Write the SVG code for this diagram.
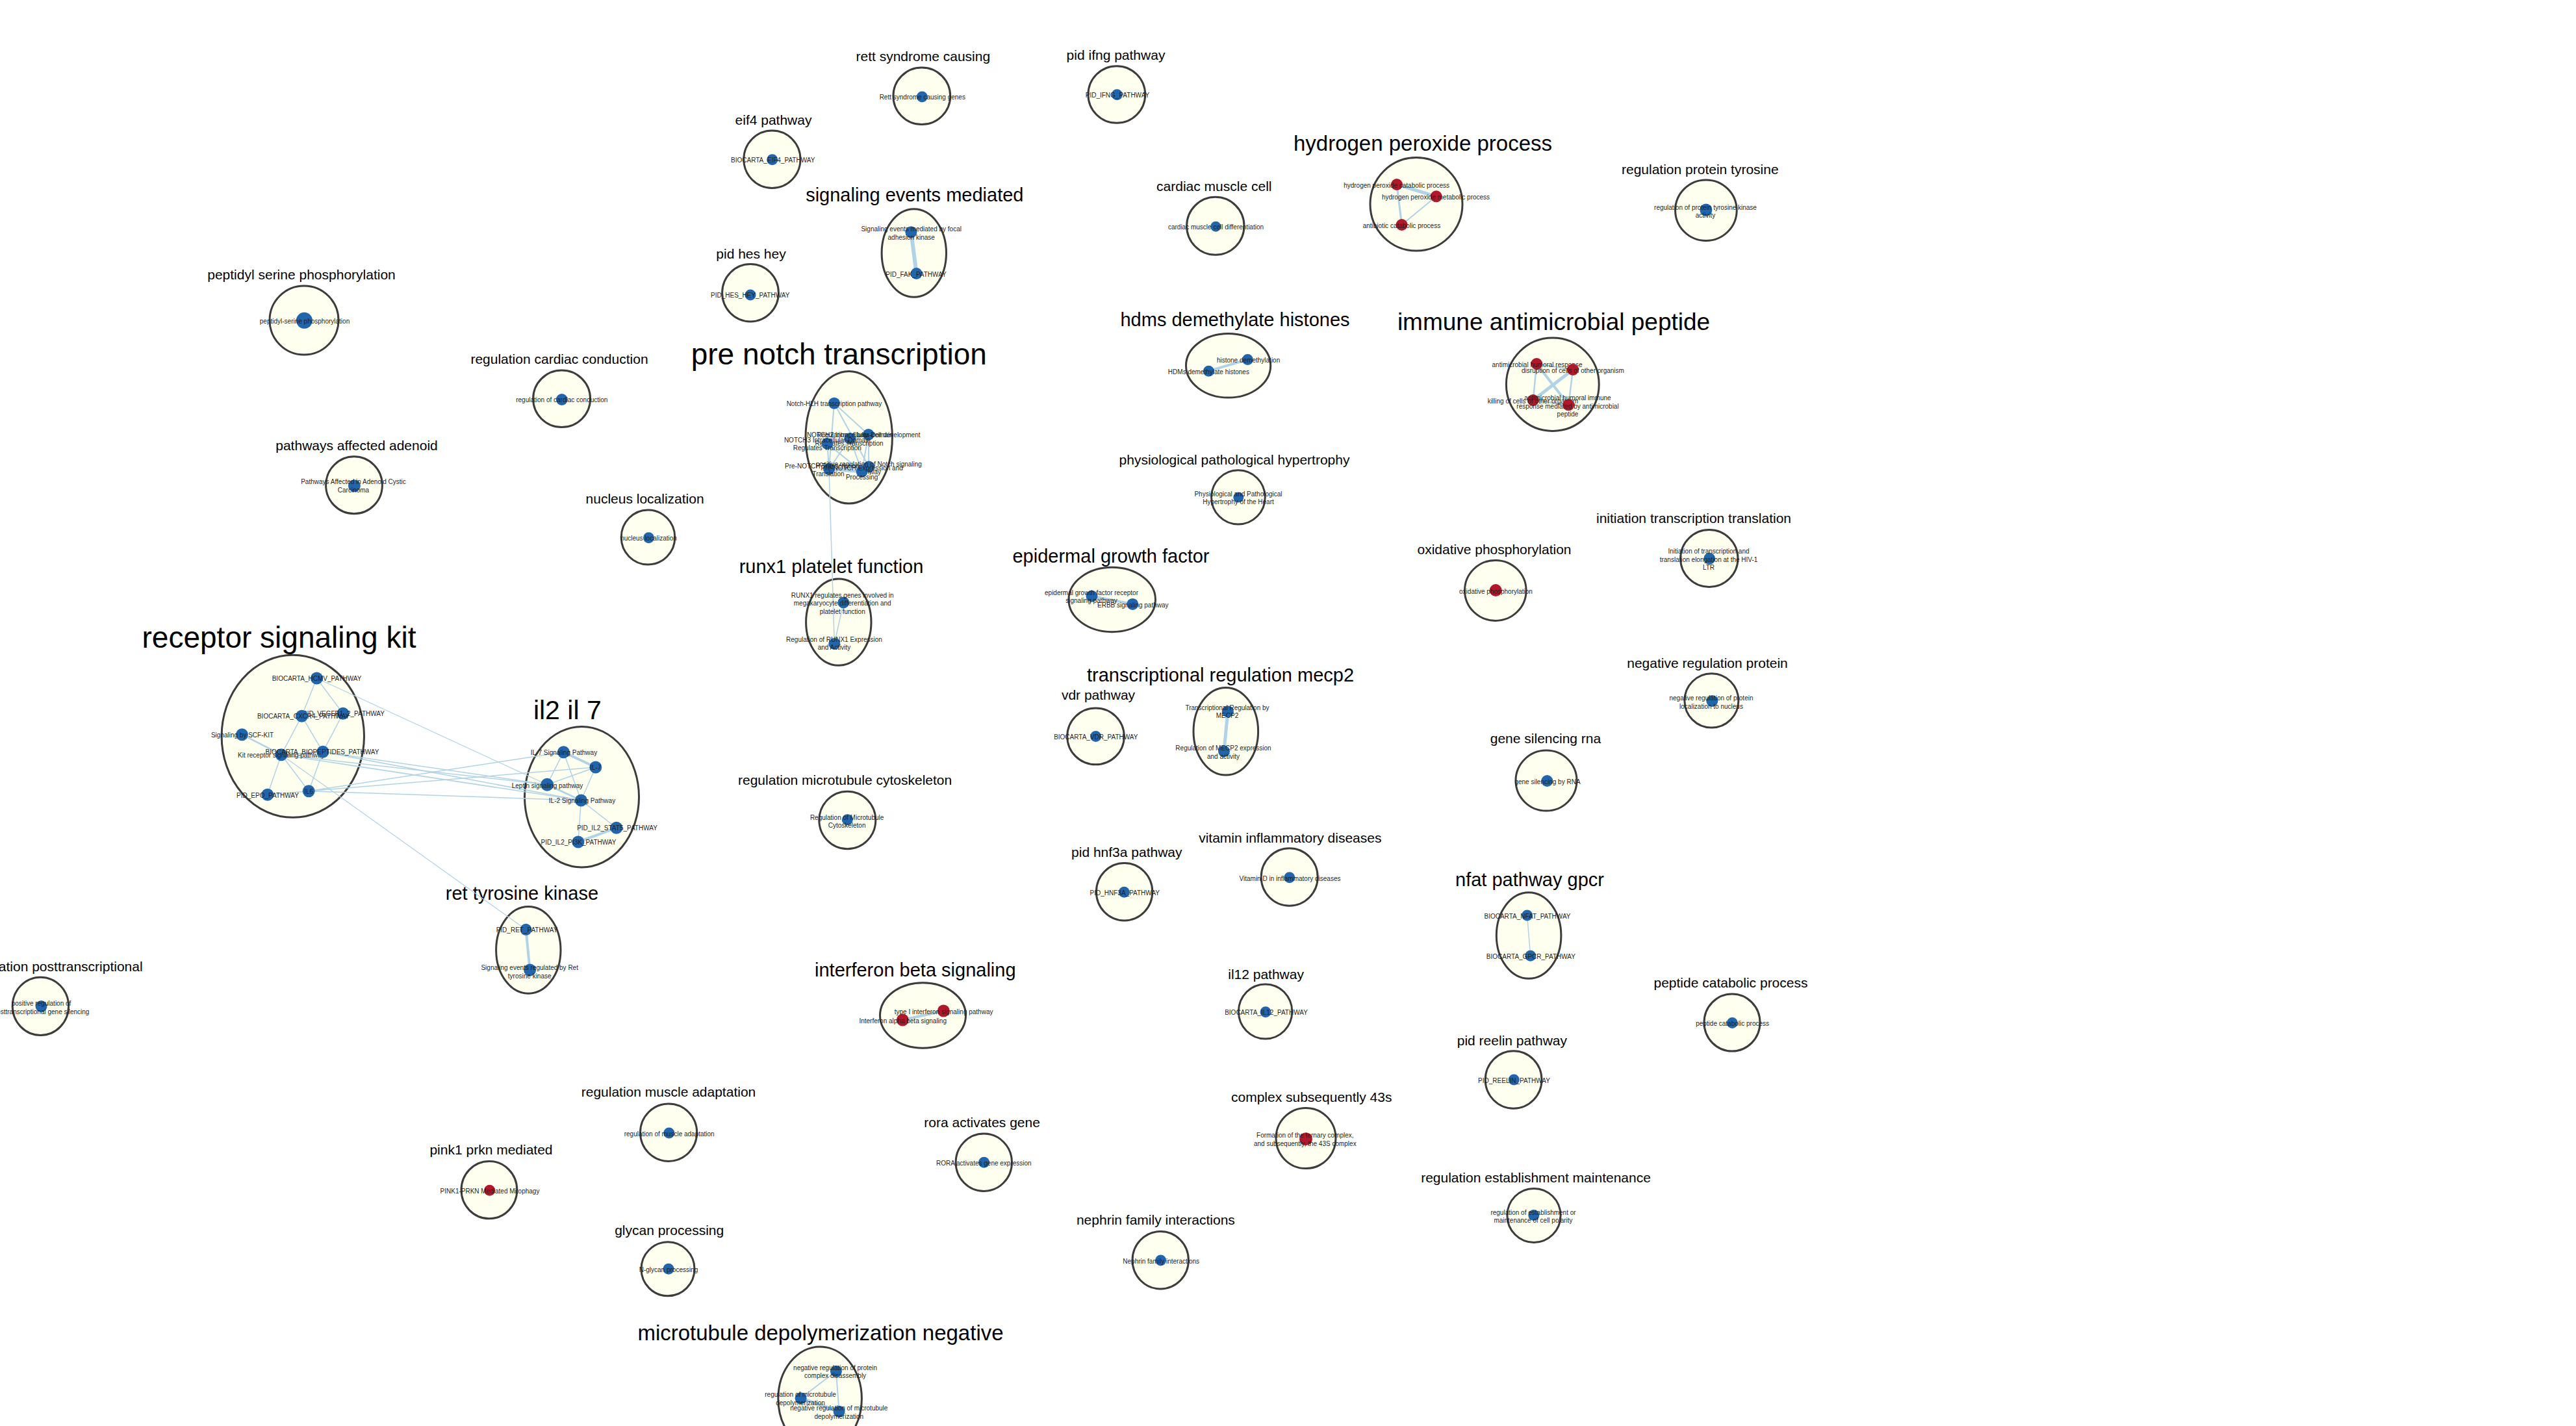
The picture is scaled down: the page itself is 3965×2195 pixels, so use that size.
<svg xmlns="http://www.w3.org/2000/svg" width="3965" height="2195" viewBox="0 0 3965 2195">
<style>
.cl{fill:#fffff0;stroke:#3c3c3c;stroke-width:3}
text{font-family:"Liberation Sans",Arial,sans-serif}
.h{text-anchor:middle;fill:#000}
.s21{font-size:21px}.s29{font-size:29px}.s33{font-size:33px}.s37{font-size:37px}.s41{font-size:41px}.s46{font-size:46px}
.b{fill:#2166ac}.r{fill:#b2182b}
.nl{font-size:10px;fill:#1e1e1e;text-anchor:middle;dominant-baseline:central}
#edges line{stroke:#b0d3e7;stroke-linecap:round}
</style>
<rect width="3965" height="2195" fill="#fff"/>
<g id="clusters">
<g id="c-peptidyl"><ellipse class="cl" cx="468" cy="493" rx="53" ry="53"/><text class="h s21" x="464" y="430">peptidyl serine phosphorylation</text></g>
<g id="c-cardcond"><ellipse class="cl" cx="864.6" cy="613.8" rx="44" ry="43.8"/><text class="h s21" x="861" y="560">regulation cardiac conduction</text></g>
<g id="c-adenoid"><ellipse class="cl" cx="545" cy="746.8" rx="43.4" ry="44"/><text class="h s21" x="549" y="693">pathways affected adenoid</text></g>
<g id="c-nucleus"><ellipse class="cl" cx="997.5" cy="827" rx="41.3" ry="42"/><text class="h s21" x="992.6" y="775">nucleus localization</text></g>
<g id="c-kit"><ellipse class="cl" cx="450.8" cy="1133.3" rx="109.7" ry="125"/><text class="h s46" x="429.5" y="996.7">receptor signaling kit</text></g>
<g id="c-il2"><ellipse class="cl" cx="895.5" cy="1226.7" rx="88" ry="108.3"/><text class="h s41" x="873.3" y="1106.7">il2 il 7</text></g>
<g id="c-notch"><ellipse class="cl" cx="1306.7" cy="673.2" rx="66.7" ry="101.8"/><text class="h s46" x="1291.3" y="560.7">pre notch transcription</text></g>
<g id="c-runx1"><ellipse class="cl" cx="1290.8" cy="957.7" rx="50.2" ry="66.6"/><text class="h s29" x="1279.5" y="882">runx1 platelet function</text></g>
<g id="c-hydrogen"><ellipse class="cl" cx="2180" cy="314.2" rx="71" ry="71.8"/><text class="h s33" x="2190" y="231.7">hydrogen peroxide process</text></g>
<g id="c-immune"><ellipse class="cl" cx="2389.8" cy="591.7" rx="71.4" ry="71.7"/><text class="h s37" x="2391.5" y="508.3">immune antimicrobial peptide</text></g>
<g id="c-tyrosine"><ellipse class="cl" cx="2625.9" cy="323.7" rx="47.3" ry="46.8"/><text class="h s21" x="2616.8" y="267.7">regulation protein tyrosine</text></g>
<g id="c-initiation"><ellipse class="cl" cx="2630.8" cy="859.5" rx="44.2" ry="43.9"/><text class="h s21" x="2607" y="805">initiation transcription translation</text></g>
<g id="c-oxidative"><ellipse class="cl" cx="2301.8" cy="908.9" rx="47.3" ry="46.5"/><text class="h s21" x="2300" y="852.6">oxidative phosphorylation</text></g>
<g id="c-negprot"><ellipse class="cl" cx="2634.4" cy="1078.4" rx="41.5" ry="41.6"/><text class="h s21" x="2628" y="1027.7">negative regulation protein</text></g>
<g id="c-genesil"><ellipse class="cl" cx="2380" cy="1201.6" rx="47" ry="46.5"/><text class="h s21" x="2379" y="1144">gene silencing rna</text></g>
<g id="c-rett"><ellipse class="cl" cx="1418.8" cy="147.8" rx="43.9" ry="43.8"/><text class="h s21" x="1420.8" y="94">rett syndrome causing</text></g>
<g id="c-ifng"><ellipse class="cl" cx="1718.8" cy="145.5" rx="43.9" ry="43.8"/><text class="h s21" x="1717.5" y="91.7">pid ifng pathway</text></g>
<g id="c-eif4"><ellipse class="cl" cx="1188.4" cy="245.2" rx="43.6" ry="44.2"/><text class="h s21" x="1190.5" y="191.7">eif4 pathway</text></g>
<g id="c-sigev"><ellipse class="cl" cx="1406.8" cy="389.5" rx="49.7" ry="67.8"/><text class="h s29" x="1407.8" y="310">signaling events mediated</text></g>
<g id="c-heshey"><ellipse class="cl" cx="1155" cy="450.8" rx="43.4" ry="44.2"/><text class="h s21" x="1156" y="397.7">pid hes hey</text></g>
<g id="c-cardmus"><ellipse class="cl" cx="1870.8" cy="347.8" rx="44.2" ry="44.5"/><text class="h s21" x="1868.8" y="294.3">cardiac muscle cell</text></g>
<g id="c-hdms"><ellipse class="cl" cx="1890.6" cy="562.8" rx="65.1" ry="49.2"/><text class="h s29" x="1901" y="501.8">hdms demethylate histones</text></g>
<g id="c-physio"><ellipse class="cl" cx="1905.9" cy="765.4" rx="41.3" ry="41.6"/><text class="h s21" x="1900" y="715">physiological pathological hypertrophy</text></g>
<g id="c-egf"><ellipse class="cl" cx="1711.7" cy="923" rx="66.8" ry="49.7"/><text class="h s29" x="1710" y="865.6">epidermal growth factor</text></g>
<g id="c-mecp2"><ellipse class="cl" cx="1886.8" cy="1125.7" rx="49.8" ry="67.3"/><text class="h s29" x="1878.5" y="1049">transcriptional regulation mecp2</text></g>
<g id="c-vdr"><ellipse class="cl" cx="1686.5" cy="1133.4" rx="43.8" ry="43.4"/><text class="h s21" x="1690.5" y="1077.3">vdr pathway</text></g>
<g id="c-mtcyto"><ellipse class="cl" cx="1304.3" cy="1262.5" rx="43.5" ry="44.2"/><text class="h s21" x="1300.6" y="1208.3">regulation microtubule cytoskeleton</text></g>
<g id="c-hnf3a"><ellipse class="cl" cx="1730.6" cy="1372.8" rx="43.2" ry="44.2"/><text class="h s21" x="1734.3" y="1319.3">pid hnf3a pathway</text></g>
<g id="c-vitamin"><ellipse class="cl" cx="1984.7" cy="1350" rx="43.5" ry="44.2"/><text class="h s21" x="1985.8" y="1296.7">vitamin inflammatory diseases</text></g>
<g id="c-ifnb"><ellipse class="cl" cx="1420.5" cy="1563" rx="66" ry="50.3"/><text class="h s29" x="1408.8" y="1503.3">interferon beta signaling</text></g>
<g id="c-il12"><ellipse class="cl" cx="1947.6" cy="1557" rx="41.2" ry="42"/><text class="h s21" x="1948.6" y="1506.7">il12 pathway</text></g>
<g id="c-nfat"><ellipse class="cl" cx="2353.1" cy="1440" rx="49.8" ry="66.3"/><text class="h s29" x="2354.5" y="1364.3">nfat pathway gpcr</text></g>
<g id="c-peptcat"><ellipse class="cl" cx="2666" cy="1574" rx="43" ry="44"/><text class="h s21" x="2664" y="1519.7">peptide catabolic process</text></g>
<g id="c-reelin"><ellipse class="cl" cx="2329.6" cy="1662" rx="43.4" ry="44.2"/><text class="h s21" x="2327.4" y="1608.9">pid reelin pathway</text></g>
<g id="c-43s"><ellipse class="cl" cx="2010" cy="1752" rx="46" ry="46.6"/><text class="h s21" x="2018.7" y="1696">complex subsequently 43s</text></g>
<g id="c-polarity"><ellipse class="cl" cx="2361" cy="1870.9" rx="41.1" ry="41.5"/><text class="h s21" x="2364" y="1820.3">regulation establishment maintenance</text></g>
<g id="c-ret"><ellipse class="cl" cx="813.3" cy="1462.4" rx="49.7" ry="66.8"/><text class="h s29" x="803.4" y="1385.2">ret tyrosine kinase</text></g>
<g id="c-posttr"><ellipse class="cl" cx="62.4" cy="1548.8" rx="43.2" ry="44.6"/><text class="s21" x="219.6" y="1495" text-anchor="end">ation posttranscriptional</text></g>
<g id="c-muscle"><ellipse class="cl" cx="1029.1" cy="1743.2" rx="43.6" ry="44.2"/><text class="h s21" x="1029" y="1688">regulation muscle adaptation</text></g>
<g id="c-pink1"><ellipse class="cl" cx="752.9" cy="1831.6" rx="42.9" ry="44.2"/><text class="h s21" x="756" y="1777">pink1 prkn mediated</text></g>
<g id="c-glycan"><ellipse class="cl" cx="1028" cy="1953.3" rx="41" ry="41.5"/><text class="h s21" x="1030.2" y="1901.4">glycan processing</text></g>
<g id="c-rora"><ellipse class="cl" cx="1514.3" cy="1789.2" rx="43.2" ry="44.2"/><text class="h s21" x="1511.6" y="1735">rora activates gene</text></g>
<g id="c-nephrin"><ellipse class="cl" cx="1786.2" cy="1939.8" rx="43.2" ry="44.2"/><text class="h s21" x="1778.9" y="1885">nephrin family interactions</text></g>
<g id="c-mtdep"><ellipse class="cl" cx="1262.1" cy="2153" rx="64.3" ry="80"/><text class="h s33" x="1263" y="2062.7">microtubule depolymerization negative</text></g>
</g>
<g id="edges">
<!-- receptor signaling kit internal -->
<line x1="487.5" y1="1044" x2="464.5" y2="1102.3" stroke-width="1.5"/>
<line x1="487.5" y1="1044" x2="527.9" y2="1098.3" stroke-width="1.5"/>
<line x1="464.5" y1="1102.3" x2="433" y2="1161.7" stroke-width="1.5"/>
<line x1="464.5" y1="1102.3" x2="497" y2="1157.3" stroke-width="1.5"/>
<line x1="527.9" y1="1098.3" x2="497" y2="1157.3" stroke-width="1.5"/>
<line x1="372.5" y1="1130.7" x2="433" y2="1161.7" stroke-width="2.5"/>
<line x1="433" y1="1161.7" x2="411.8" y2="1223.3" stroke-width="1.5"/>
<line x1="433" y1="1161.7" x2="475.2" y2="1217.7" stroke-width="1.5"/>
<line x1="497" y1="1157.3" x2="475.2" y2="1217.7" stroke-width="1.5"/>
<line x1="411.8" y1="1223.3" x2="475.2" y2="1217.7" stroke-width="1.5"/>
<line x1="433" y1="1161.7" x2="497" y2="1157.3" stroke-width="2"/>
<!-- cross edges kit / il2 -->
<line x1="487.5" y1="1044" x2="842.2" y2="1207.7" stroke-width="1.2"/>
<line x1="433" y1="1161.7" x2="842.2" y2="1207.7" stroke-width="1.5"/>
<line x1="433" y1="1161.7" x2="894.4" y2="1232" stroke-width="1.5"/>
<line x1="497" y1="1157.3" x2="842.2" y2="1207.7" stroke-width="1.5"/>
<line x1="497" y1="1157.3" x2="894.4" y2="1232" stroke-width="1.5"/>
<line x1="475.2" y1="1217.7" x2="867.4" y2="1157.7" stroke-width="1.5"/>
<line x1="475.2" y1="1217.7" x2="916.8" y2="1181" stroke-width="1.5"/>
<line x1="475.2" y1="1217.7" x2="894.4" y2="1232" stroke-width="1.5"/>
<line x1="433" y1="1161.7" x2="809.5" y2="1430.8" stroke-width="1.2"/>
<!-- il2 internal -->
<line x1="867.4" y1="1157.7" x2="916.8" y2="1181" stroke-width="4"/>
<line x1="867.4" y1="1157.7" x2="842.2" y2="1207.7" stroke-width="1.5"/>
<line x1="867.4" y1="1157.7" x2="894.4" y2="1232" stroke-width="1.5"/>
<line x1="916.8" y1="1181" x2="842.2" y2="1207.7" stroke-width="1.5"/>
<line x1="916.8" y1="1181" x2="894.4" y2="1232" stroke-width="1.5"/>
<line x1="842.2" y1="1207.7" x2="894.4" y2="1232" stroke-width="3"/>
<line x1="894.4" y1="1232" x2="948.8" y2="1274.3" stroke-width="1.5"/>
<line x1="894.4" y1="1232" x2="889.9" y2="1296" stroke-width="1.5"/>
<line x1="948.8" y1="1274.3" x2="889.9" y2="1296" stroke-width="4"/>
<!-- ret -->
<line x1="809.5" y1="1430.8" x2="815.6" y2="1493" stroke-width="4"/>
<!-- notch -->
<line x1="1284" y1="620.7" x2="1336.7" y2="669" stroke-width="2"/>
<line x1="1284" y1="620.7" x2="1276" y2="722" stroke-width="2"/>
<line x1="1284" y1="620.7" x2="1337.3" y2="718.6" stroke-width="2"/>
<line x1="1336.7" y1="669" x2="1308.3" y2="675" stroke-width="4"/>
<line x1="1336.7" y1="669" x2="1337.3" y2="718.6" stroke-width="2"/>
<line x1="1336.7" y1="669" x2="1326.7" y2="725.7" stroke-width="2"/>
<line x1="1308.3" y1="675" x2="1273.3" y2="682.9" stroke-width="2"/>
<line x1="1308.3" y1="675" x2="1276" y2="722" stroke-width="2"/>
<line x1="1308.3" y1="675" x2="1326.7" y2="725.7" stroke-width="2"/>
<line x1="1273.3" y1="682.9" x2="1276" y2="722" stroke-width="2"/>
<line x1="1273.3" y1="682.9" x2="1326.7" y2="725.7" stroke-width="2"/>
<line x1="1276" y1="722" x2="1326.7" y2="725.7" stroke-width="5"/>
<line x1="1276" y1="722" x2="1337.3" y2="718.6" stroke-width="2"/>
<line x1="1337.3" y1="718.6" x2="1326.7" y2="725.7" stroke-width="4"/>
<line x1="1276" y1="722" x2="1284.3" y2="991" stroke-width="1.5"/>
<!-- runx1 -->
<line x1="1298.3" y1="927.5" x2="1284.3" y2="991" stroke-width="1.5"/>
<!-- signaling events -->
<line x1="1402.4" y1="357.3" x2="1410.6" y2="421" stroke-width="6"/>
<!-- hydrogen -->
<line x1="2150" y1="284" x2="2210.7" y2="302.3" stroke-width="5"/>
<line x1="2150" y1="284" x2="2157.6" y2="346" stroke-width="3"/>
<line x1="2210.7" y1="302.3" x2="2157.6" y2="346" stroke-width="2"/>
<!-- immune -->
<line x1="2365.2" y1="560" x2="2421" y2="569" stroke-width="2"/>
<line x1="2365.2" y1="560" x2="2359.8" y2="616" stroke-width="2.5"/>
<line x1="2365.2" y1="560" x2="2414.3" y2="623.3" stroke-width="4"/>
<line x1="2421" y1="569" x2="2359.8" y2="616" stroke-width="5"/>
<line x1="2421" y1="569" x2="2414.3" y2="623.3" stroke-width="2.5"/>
<line x1="2359.8" y1="616" x2="2414.3" y2="623.3" stroke-width="3"/>
<!-- hdms, egf, mecp2, ifnb, nfat -->
<line x1="1920.4" y1="553.4" x2="1860.4" y2="571.2" stroke-width="4"/>
<line x1="1680.5" y1="917.7" x2="1743.3" y2="929.9" stroke-width="4"/>
<line x1="1889.8" y1="1095.2" x2="1884" y2="1156.4" stroke-width="5"/>
<line x1="1452.3" y1="1556" x2="1389.3" y2="1570" stroke-width="4"/>
<line x1="2350.6" y1="1409" x2="2355.7" y2="1471.2" stroke-width="1.5"/>
<!-- microtubule depolymerization -->
<line x1="1286.9" y1="2110.7" x2="1232.6" y2="2152.3" stroke-width="2"/>
<line x1="1286.9" y1="2110.7" x2="1291.6" y2="2172.7" stroke-width="2"/>
<line x1="1232.6" y1="2152.3" x2="1291.6" y2="2172.7" stroke-width="5"/>
</g>
<g id="nodes">
<g id="n-peptidyl"><circle class="b" cx="468.4" cy="493.3" r="12.5"/><text class="nl" x="469" y="494">peptidyl-serine phosphorylation</text></g>
<g id="n-cardcond"><circle class="b" cx="864.8" cy="615" r="9"/><text class="nl" x="864.8" y="615.5">regulation of cardiac conduction</text></g>
<g id="n-adenoid"><circle class="b" cx="545.4" cy="747.7" r="9.5"/><text class="nl" x="544" y="741.5">Pathways Affected in Adenoid Cystic</text><text class="nl" x="544" y="754.7">Carcinoma</text></g>
<g id="n-nucleus"><circle class="b" cx="998.5" cy="827.7" r="8.5"/><text class="nl" x="998.5" y="828">nucleus localization</text></g>
<g id="n-hcmv"><circle class="b" cx="487.5" cy="1044" r="9.5"/><text class="nl" x="487.5" y="1044">BIOCARTA_HCMV_PATHWAY</text></g>
<g id="n-vegfr"><circle class="b" cx="527.9" cy="1098.3" r="9.5"/><text class="nl" x="529" y="1098.3">PID_VEGFR1_2_PATHWAY</text></g>
<g id="n-cxcr4"><circle class="b" cx="464.5" cy="1102.3" r="9.5"/><text class="nl" x="467" y="1102.5">BIOCARTA_CXCR4_PATHWAY</text></g>
<g id="n-scf"><circle class="b" cx="372.5" cy="1130.7" r="9.5"/><text class="nl" x="373" y="1131">Signaling by SCF-KIT</text></g>
<g id="n-kit"><circle class="b" cx="433" cy="1161.7" r="9.5"/><text class="nl" x="432.7" y="1162">Kit receptor signaling pathway</text></g>
<g id="n-biopep"><circle class="b" cx="497" cy="1157.3" r="9.5"/><text class="nl" x="496" y="1157.5">BIOCARTA_BIOPEPTIDES_PATHWAY</text></g>
<g id="n-il6"><circle class="b" cx="475.2" cy="1217.7" r="9.5"/><text class="nl" x="475.2" y="1218">IL6</text></g>
<g id="n-epo"><circle class="b" cx="411.8" cy="1223.3" r="9.5"/><text class="nl" x="412" y="1224">PID_EPO_PATHWAY</text></g>
<g id="n-il7sp"><circle class="b" cx="867.4" cy="1157.7" r="9.5"/><text class="nl" x="868" y="1158">IL-7 Signaling Pathway</text></g>
<g id="n-il7"><circle class="b" cx="916.8" cy="1181" r="9.5"/><text class="nl" x="916.8" y="1181">IL-7</text></g>
<g id="n-leptin"><circle class="b" cx="842.2" cy="1207.7" r="10"/><text class="nl" x="842.5" y="1209">Leptin signaling pathway</text></g>
<g id="n-il2sp"><circle class="b" cx="894.4" cy="1232" r="9.5"/><text class="nl" x="896" y="1232.5">IL-2 Signaling Pathway</text></g>
<g id="n-stat5"><circle class="b" cx="948.8" cy="1274.3" r="9.5"/><text class="nl" x="950" y="1274.5">PID_IL2_STAT5_PATHWAY</text></g>
<g id="n-pi3k"><circle class="b" cx="889.9" cy="1296" r="9.5"/><text class="nl" x="890.5" y="1296.5">PID_IL2_PI3K_PATHWAY</text></g>
<g id="n-retp"><circle class="b" cx="809.5" cy="1430.8" r="9"/><text class="nl" x="811" y="1431">PID_RET_PATHWAY</text></g>
<g id="n-retsig"><circle class="b" cx="815.6" cy="1493" r="9.5"/><text class="nl" x="815.2" y="1489">Signaling events regulated by Ret</text><text class="nl" x="815.2" y="1502">tyrosine kinase</text></g>
<g id="n-posttr"><circle class="b" cx="63.5" cy="1549" r="9"/><text class="nl" x="63.5" y="1544">positive regulation of</text><text class="nl" x="63.5" y="1557">posttranscriptional gene silencing</text></g>
<g id="n-hlh"><circle class="b" cx="1284" cy="620.7" r="9"/><text class="nl" x="1284" y="621.5">Notch-HLH transcription pathway</text></g>
<g id="n-beta"><circle class="b" cx="1336.7" cy="669" r="9"/><text class="nl" x="1336.7" y="669.6">Regulation of beta-cell development</text></g>
<g id="n-notch2"><circle class="b" cx="1308.3" cy="675" r="9"/><text class="nl" x="1308.3" y="669.6">NOTCH2 Intracellular Domain</text><text class="nl" x="1307" y="682.9">Regulates Transcription</text></g>
<g id="n-notch3"><circle class="b" cx="1273.3" cy="682.9" r="9"/><text class="nl" x="1273.3" y="677.5">NOTCH3 Intracellular Domain</text><text class="nl" x="1273.3" y="689.6">Regulates Transcription</text></g>
<g id="n-pretr"><circle class="b" cx="1276" cy="722" r="9"/><text class="nl" x="1275" y="717">Pre-NOTCH Transcription and</text><text class="nl" x="1275" y="729.6">Translation</text></g>
<g id="n-posnotch"><circle class="b" cx="1337.3" cy="718.6" r="9"/><text class="nl" x="1337.5" y="714.6">positive regulation of Notch signaling</text><text class="nl" x="1337.5" y="726.8">pathway</text></g>
<g id="n-preexp"><circle class="b" cx="1326.7" cy="725.7" r="9"/><text class="nl" x="1326.7" y="720.7">Pre-NOTCH Expression and</text><text class="nl" x="1326.7" y="734">Processing</text></g>
<g id="n-runxgenes"><circle class="b" cx="1298.3" cy="927.5" r="9"/><text class="nl" x="1296.7" y="916">RUNX1 regulates genes involved in</text><text class="nl" x="1296.7" y="928">megakaryocyte differentiation and</text><text class="nl" x="1296.7" y="941">platelet function</text></g>
<g id="n-runxreg"><circle class="b" cx="1284.3" cy="991" r="9"/><text class="nl" x="1284" y="984">Regulation of RUNX1 Expression</text><text class="nl" x="1284" y="996">and Activity</text></g>
<g id="n-h2o2cat"><circle class="r" cx="2150" cy="284" r="9"/><text class="nl" x="2149.6" y="285">hydrogen peroxide catabolic process</text></g>
<g id="n-h2o2met"><circle class="r" cx="2210.7" cy="302.3" r="9"/><text class="nl" x="2210" y="303.5">hydrogen peroxide metabolic process</text></g>
<g id="n-antibio"><circle class="r" cx="2157.6" cy="346" r="9"/><text class="nl" x="2157.4" y="347">antibiotic catabolic process</text></g>
<g id="n-ahr"><circle class="r" cx="2365.2" cy="560" r="9"/><text class="nl" x="2366" y="561.5">antimicrobial humoral response</text></g>
<g id="n-dco"><circle class="r" cx="2421" cy="569" r="9"/><text class="nl" x="2421" y="570">disruption of cells of other organism</text></g>
<g id="n-kco"><circle class="r" cx="2359.8" cy="616" r="9"/><text class="nl" x="2359.4" y="617">killing of cells of other organism</text></g>
<g id="n-ahir"><circle class="r" cx="2414.3" cy="623.3" r="9"/><text class="nl" x="2413" y="612">antimicrobial humoral immune</text><text class="nl" x="2413" y="625">response mediated by antimicrobial</text><text class="nl" x="2413" y="637">peptide</text></g>
<g id="n-tyrosine"><circle class="b" cx="2625.9" cy="323" r="9.5"/><text class="nl" x="2625" y="319">regulation of protein tyrosine kinase</text><text class="nl" x="2625" y="331">activity</text></g>
<g id="n-initiation"><circle class="b" cx="2631.2" cy="859.8" r="9"/><text class="nl" x="2630" y="848">Initiation of transcription and</text><text class="nl" x="2630" y="861">translation elongation at the HIV-1</text><text class="nl" x="2630" y="873">LTR</text></g>
<g id="n-oxidative"><circle class="r" cx="2302.2" cy="908.6" r="9.5"/><text class="nl" x="2302.5" y="910">oxidative phosphorylation</text></g>
<g id="n-negprot"><circle class="b" cx="2635.3" cy="1079" r="9"/><text class="nl" x="2634" y="1074">negative regulation of protein</text><text class="nl" x="2634" y="1087">localization to nucleus</text></g>
<g id="n-genesil"><circle class="b" cx="2381.3" cy="1202" r="9"/><text class="nl" x="2382" y="1203">gene silencing by RNA</text></g>
<g id="n-rett"><circle class="b" cx="1419.3" cy="149" r="8.5"/><text class="nl" x="1419.8" y="149.5">Rett syndrome causing genes</text></g>
<g id="n-ifng"><circle class="b" cx="1719.3" cy="145.7" r="8.5"/><text class="nl" x="1720" y="146.5">PID_IFNG_PATHWAY</text></g>
<g id="n-eif4"><circle class="b" cx="1188.7" cy="245.7" r="8.5"/><text class="nl" x="1189.7" y="246.5">BIOCARTA_EIF4_PATHWAY</text></g>
<g id="n-fak1"><circle class="b" cx="1402.4" cy="357.3" r="9"/><text class="nl" x="1402.7" y="352">Signaling events mediated by focal</text><text class="nl" x="1402.7" y="365">adhesion kinase</text></g>
<g id="n-fak2"><circle class="b" cx="1410.6" cy="421" r="9"/><text class="nl" x="1410" y="422">PID_FAK_PATHWAY</text></g>
<g id="n-heshey"><circle class="b" cx="1155" cy="454" r="8.5"/><text class="nl" x="1154.7" y="454">PID_HES_HEY_PATHWAY</text></g>
<g id="n-cardmus"><circle class="b" cx="1871.3" cy="348.7" r="8"/><text class="nl" x="1871.5" y="349.5">cardiac muscle cell differentiation</text></g>
<g id="n-histdem"><circle class="b" cx="1920.4" cy="553.4" r="8.5"/><text class="nl" x="1921.6" y="554">histone demethylation</text></g>
<g id="n-hdms"><circle class="b" cx="1860.4" cy="571.2" r="8.5"/><text class="nl" x="1860.4" y="572">HDMs demethylate histones</text></g>
<g id="n-physio"><circle class="b" cx="1906.3" cy="765.6" r="8"/><text class="nl" x="1906" y="760">Physiological and Pathological</text><text class="nl" x="1906" y="772">Hypertrophy of the Heart</text></g>
<g id="n-egfr"><circle class="b" cx="1680.5" cy="917.7" r="9"/><text class="nl" x="1680" y="912">epidermal growth factor receptor</text><text class="nl" x="1680" y="924">signaling pathway</text></g>
<g id="n-erbb"><circle class="b" cx="1743.3" cy="929.9" r="9"/><text class="nl" x="1743.8" y="931">ERBB signaling pathway</text></g>
<g id="n-mecp2a"><circle class="b" cx="1889.8" cy="1095.2" r="9"/><text class="nl" x="1889" y="1089.5">Transcriptional Regulation by</text><text class="nl" x="1889" y="1101.5">MECP2</text></g>
<g id="n-mecp2b"><circle class="b" cx="1884" cy="1156.4" r="9"/><text class="nl" x="1883" y="1151.5">Regulation of MECP2 expression</text><text class="nl" x="1883" y="1164.5">and activity</text></g>
<g id="n-vdr"><circle class="b" cx="1686.6" cy="1133.5" r="8.5"/><text class="nl" x="1686.8" y="1134.5">BIOCARTA_VDR_PATHWAY</text></g>
<g id="n-mtcyto"><circle class="b" cx="1304.3" cy="1261.7" r="8.5"/><text class="nl" x="1303.6" y="1258">Regulation of Microtubule</text><text class="nl" x="1303.6" y="1270">Cytoskeleton</text></g>
<g id="n-hnf3a"><circle class="b" cx="1730.3" cy="1373.3" r="8.5"/><text class="nl" x="1731.3" y="1374">PID_HNF3A_PATHWAY</text></g>
<g id="n-vitamin"><circle class="b" cx="1984.8" cy="1350.7" r="8.5"/><text class="nl" x="1985.5" y="1352">Vitamin D in inflammatory diseases</text></g>
<g id="n-type1"><circle class="r" cx="1452.3" cy="1556" r="9.5"/><text class="nl" x="1452.6" y="1557.5">type I interferon signaling pathway</text></g>
<g id="n-ifnab"><circle class="r" cx="1389.3" cy="1570" r="9.5"/><text class="nl" x="1389.7" y="1571">Interferon alpha beta signaling</text></g>
<g id="n-il12"><circle class="b" cx="1948" cy="1557.7" r="8.5"/><text class="nl" x="1949" y="1558.5">BIOCARTA_IL12_PATHWAY</text></g>
<g id="n-nfat"><circle class="b" cx="2350.6" cy="1409" r="8.5"/><text class="nl" x="2351" y="1410">BIOCARTA_NFAT_PATHWAY</text></g>
<g id="n-gpcr"><circle class="b" cx="2355.7" cy="1471.2" r="8.5"/><text class="nl" x="2356.4" y="1472">BIOCARTA_GPCR_PATHWAY</text></g>
<g id="n-peptcat"><circle class="b" cx="2666.3" cy="1574.5" r="8.5"/><text class="nl" x="2666.6" y="1575.5">peptide catabolic process</text></g>
<g id="n-reelin"><circle class="b" cx="2330.2" cy="1662" r="8.5"/><text class="nl" x="2330.5" y="1663">PID_REELIN_PATHWAY</text></g>
<g id="n-43s"><circle class="r" cx="2010" cy="1753.2" r="10"/><text class="nl" x="2008.8" y="1747">Formation of the ternary complex,</text><text class="nl" x="2008.8" y="1760">and subsequently, the 43S complex</text></g>
<g id="n-polarity"><circle class="b" cx="2360.8" cy="1870.5" r="8.5"/><text class="nl" x="2360" y="1866">regulation of establishment or</text><text class="nl" x="2360" y="1878">maintenance of cell polarity</text></g>
<g id="n-muscle"><circle class="b" cx="1029.8" cy="1743.9" r="8.5"/><text class="nl" x="1030.2" y="1745">regulation of muscle adaptation</text></g>
<g id="n-pink1"><circle class="r" cx="753.6" cy="1832.2" r="8.5"/><text class="nl" x="754" y="1833">PINK1-PRKN Mediated Mitophagy</text></g>
<g id="n-glycan"><circle class="b" cx="1029" cy="1953.2" r="8.5"/><text class="nl" x="1029" y="1954">N-glycan processing</text></g>
<g id="n-rora"><circle class="b" cx="1514.6" cy="1789.3" r="8.5"/><text class="nl" x="1514.3" y="1790">RORA activates gene expression</text></g>
<g id="n-nephrin"><circle class="b" cx="1786.6" cy="1940" r="8.5"/><text class="nl" x="1787.2" y="1941">Nephrin family interactions</text></g>
<g id="n-nrpcd"><circle class="b" cx="1286.9" cy="2110.7" r="9"/><text class="nl" x="1285.6" y="2105">negative regulation of protein</text><text class="nl" x="1285.6" y="2117">complex disassembly</text></g>
<g id="n-rmd"><circle class="b" cx="1232.6" cy="2152.3" r="9"/><text class="nl" x="1232" y="2146">regulation of microtubule</text><text class="nl" x="1232" y="2159">depolymerization</text></g>
<g id="n-nrmd"><circle class="b" cx="1291.6" cy="2172.7" r="9"/><text class="nl" x="1291.3" y="2167">negative regulation of microtubule</text><text class="nl" x="1291.3" y="2180">depolymerization</text></g>
</g>
</svg>
